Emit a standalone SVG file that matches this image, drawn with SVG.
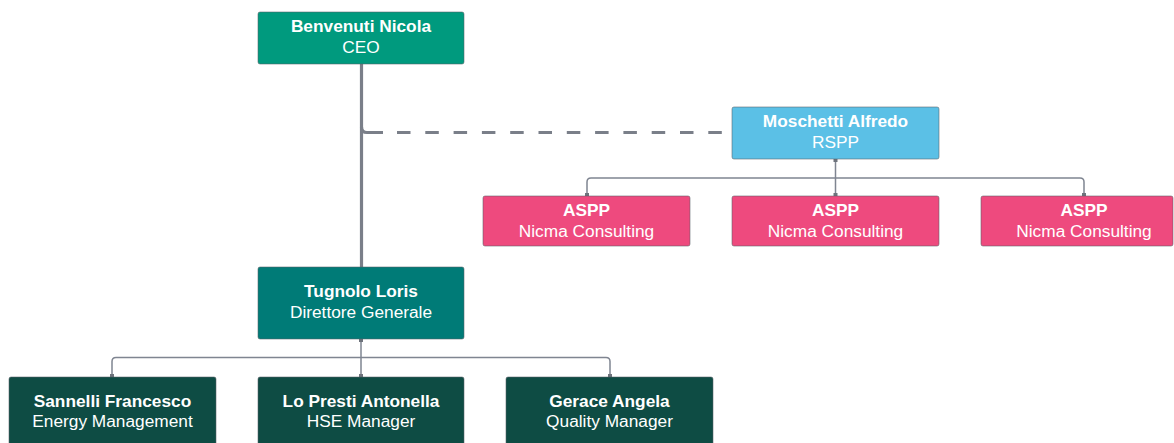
<svg xmlns="http://www.w3.org/2000/svg" width="1174" height="443" viewBox="0 0 1174 443">
<style>
  .box { stroke: #5a5f66; stroke-opacity: 0.55; stroke-width: 1; }
  .t1 { font-family: "Liberation Sans", Arial, sans-serif; font-size: 17.3px; font-weight: bold; fill: #ffffff; text-anchor: middle; }
  .t2 { font-family: "Liberation Sans", Arial, sans-serif; font-size: 17.3px; fill: #ffffff; text-anchor: middle; }
  .thin { fill: none; stroke: #7f8591; stroke-width: 1.5; }
  .thick { fill: none; stroke: #7a7f89; stroke-width: 3.2; }
  .dash { fill: none; stroke: #7a7f89; stroke-width: 3.2; stroke-dasharray: 13.5 14.8; }
  .dot { fill: #6e737c; }
  .ceo { fill: #009a7e; }
  .dg { fill: #007b77; }
  .mgr { fill: #0e4c44; }
  .rspp { fill: #5bc0e6; }
  .aspp { fill: #ee4a7e; }
</style>
<rect width="1174" height="443" fill="#ffffff"/>
<g id="connectors">
  <path class="thick" d="M361.5 64 V267"/>
  <path class="thick" d="M361.5 127 Q361.5 132.5 367 132.5 H383"/>
  <path class="dash" d="M397 132.5 H724"/>
  <path class="thin" d="M835.5 159 V178 M835.5 178 H591 Q587 178 587 182 V196 M835.5 178 H1080 Q1084 178 1084 182 V196 M835.5 178 V196"/>
  <path class="thin" d="M361 339 V357.5 M361 357.5 H116 Q112 357.5 112 361.5 V377 M361 357.5 H606 Q610 357.5 610 361.5 V377 M361 357.5 V377"/>
  <rect class="dot" x="833.5" y="159" width="4" height="3"/>
  <rect class="dot" x="585" y="193" width="4" height="3"/>
  <rect class="dot" x="833.5" y="193" width="4" height="3"/>
  <rect class="dot" x="1082" y="193" width="4" height="3"/>
  <rect class="dot" x="359" y="339" width="4" height="3"/>
  <rect class="dot" x="110" y="374" width="4" height="3"/>
  <rect class="dot" x="359" y="374" width="4" height="3"/>
  <rect class="dot" x="608" y="374" width="4" height="3"/>
</g>
<g id="ceo">
  <rect class="box ceo" x="258" y="12" width="206" height="52" rx="2"/>
  <text class="t1" x="361" y="31.5">Benvenuti Nicola</text>
  <text class="t2" x="361" y="52.5">CEO</text>
</g>
<g id="rspp">
  <rect class="box rspp" x="732" y="107" width="207" height="52" rx="2"/>
  <text class="t1" x="835.5" y="126.5">Moschetti Alfredo</text>
  <text class="t2" x="835.5" y="147.5">RSPP</text>
</g>
<g id="aspp1">
  <rect class="box aspp" x="483" y="196" width="207" height="50" rx="2"/>
  <text class="t1" x="586.5" y="215.5">ASPP</text>
  <text class="t2" x="586.5" y="236.5">Nicma Consulting</text>
</g>
<g id="aspp2">
  <rect class="box aspp" x="732" y="196" width="207" height="50" rx="2"/>
  <text class="t1" x="835.5" y="215.5">ASPP</text>
  <text class="t2" x="835.5" y="236.5">Nicma Consulting</text>
</g>
<g id="aspp3">
  <rect class="box aspp" x="981" y="196" width="192" height="50" rx="2"/>
  <text class="t1" x="1084" y="215.5">ASPP</text>
  <text class="t2" x="1084" y="236.5">Nicma Consulting</text>
</g>
<g id="dg">
  <rect class="box dg" x="258" y="267" width="206" height="72" rx="2"/>
  <text class="t1" x="361" y="297">Tugnolo Loris</text>
  <text class="t2" x="361" y="318">Direttore Generale</text>
</g>
<g id="energy">
  <rect class="box mgr" x="9" y="377" width="207" height="72" rx="2"/>
  <text class="t1" x="112.5" y="406.5">Sannelli Francesco</text>
  <text class="t2" x="112.5" y="427">Energy Management</text>
</g>
<g id="hse">
  <rect class="box mgr" x="258" y="377" width="206" height="72" rx="2"/>
  <text class="t1" x="361" y="406.5">Lo Presti Antonella</text>
  <text class="t2" x="361" y="427">HSE Manager</text>
</g>
<g id="quality">
  <rect class="box mgr" x="506" y="377" width="207" height="72" rx="2"/>
  <text class="t1" x="609.5" y="406.5">Gerace Angela</text>
  <text class="t2" x="609.5" y="427">Quality Manager</text>
</g>
</svg>
